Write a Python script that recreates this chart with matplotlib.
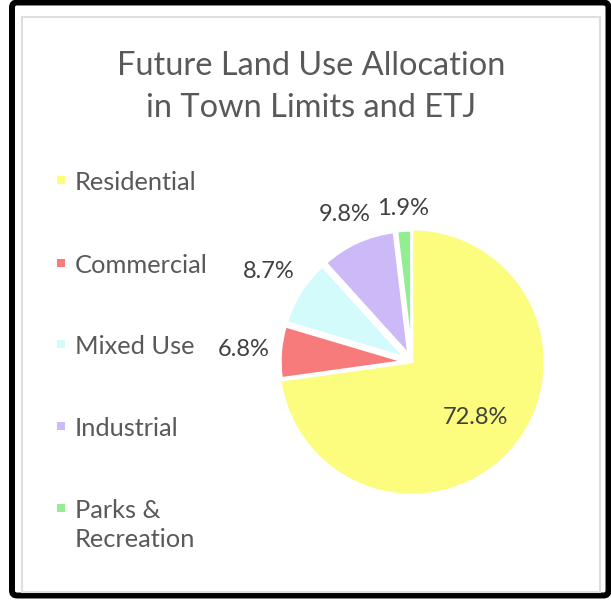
import matplotlib
matplotlib.use("Agg")
import matplotlib.pyplot as plt
from matplotlib.patches import Rectangle, FancyBboxPatch
import numpy as np

# Land use shares (percent of town limits + ETJ)
categories = ["Residential", "Commercial", "Mixed Use", "Industrial", "Parks & Recreation"]
shares = [72.8, 6.8, 8.7, 9.8, 1.9]
colors = ["#fcfc7e", "#f77b7b", "#d4fbfb", "#cbb9f8", "#93ee93"]
title_lines = ["Future Land Use Allocation", "in Town Limits and ETJ"]

W, H = 611, 600
FONT = ["Lato", "DejaVu Sans"]

fig = plt.figure(figsize=(W / 100, H / 100), dpi=100)
ax = fig.add_axes([0, 0, 1, 1])


def Y(py):
    """Convert a distance from the top edge into an axes y value."""
    return H - py


# Pie: largest slice stays in place, the others are pulled out a little
R = 133
cx, cy = 412, Y(362)
largest = max(shares)
explode = [0 if v == largest else 8 for v in shares]
wedges, _ = ax.pie(shares, colors=colors, startangle=90, counterclock=False,
                   radius=R, center=(cx, cy), explode=explode,
                   wedgeprops=dict(edgecolor="white", linewidth=2))
for w, v in zip(wedges, shares):
    if v != largest:
        w.set_radius(R * 0.93)

ax.set_xlim(0, W)
ax.set_ylim(0, H)
ax.set_aspect("equal")
ax.axis("off")

renderer = fig.canvas.get_renderer()

# Percentage labels: inside the big slice, just outside the small ones
for w, v in zip(wedges, shares):
    th = np.deg2rad((w.theta1 + w.theta2) / 2)
    d = np.array([np.cos(th), np.sin(th)])
    x0, y0 = w.center
    t = ax.text(0, 0, f"{v:.1f}%", fontsize=17, color="#404040",
                ha="center", va="center", family=FONT)
    if v == largest:
        pos = np.array([x0, y0]) + 0.63 * R * d
    else:
        bb = t.get_window_extent(renderer)
        dist = w.r + 10 + abs(d[0]) * bb.width / 2 + abs(d[1]) * bb.height / 2
        pos = np.array([x0, y0]) + dist * d
    t.set_position(pos)

# Title
for line, py in zip(title_lines, [66, 108]):
    ax.text(311, Y(py), line, fontsize=23.4, color="#595959",
            ha="center", va="center", family=FONT)

# Legend down the left side
legend_rows = [180, 263, 344, 426, 508]
for name, col, py in zip(categories, colors, legend_rows):
    ax.add_patch(Rectangle((57, Y(py) - 4), 8, 8, facecolor=col,
                           edgecolor="none", clip_on=False))
    label = name.replace(" & ", " &\n")
    ax.text(75, Y(py) + 9, label, fontsize=18.3, color="#595959",
            ha="left", va="top", family=FONT, linespacing=1.3)

# Outer black frame and inner light chart border
ax.add_patch(FancyBboxPatch((12, 4.5), 596.5, 593,
                            boxstyle="round,pad=0,rounding_size=5",
                            facecolor="none", edgecolor="black",
                            linewidth=4.3, clip_on=False))
ax.add_patch(Rectangle((22, Y(592)), 578, 575, facecolor="none",
                       edgecolor="#dedede", linewidth=1.5, clip_on=False))

fig.savefig("out.png", dpi=100, facecolor="white")
